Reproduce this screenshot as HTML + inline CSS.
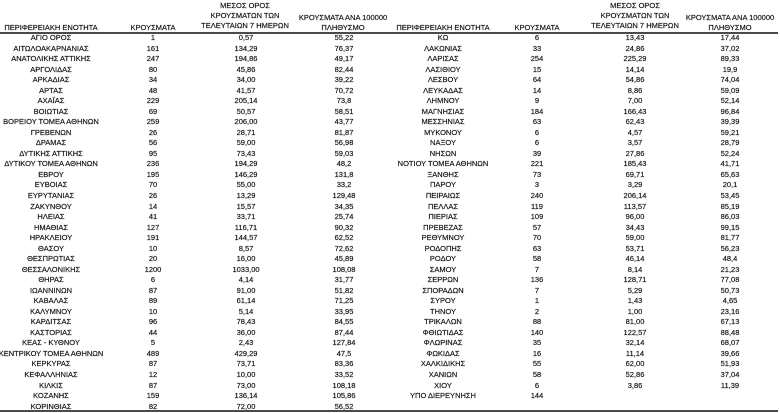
<!DOCTYPE html>
<html><head><meta charset="utf-8">
<style>
html,body{margin:0;padding:0;background:#fff;}
#w{position:relative;width:780px;height:413px;overflow:hidden;background:#fff;font-family:"Liberation Sans","DejaVu Sans",sans-serif;font-size:7.5px;color:#141414;-webkit-text-stroke:0.18px #141414;}
.h{position:absolute;white-space:nowrap;transform:translateX(-50%);line-height:10px;}
.t{position:absolute;top:33px;width:390px;}
.r{position:relative;height:10.54px;line-height:10.54px;}
.r span{position:absolute;top:0;white-space:nowrap;transform:translateX(-50%);}
#L .a{left:51px}#L .b{left:153px}#L .c{left:246px}#L .d{left:344px}
#R .a{left:53px}#R .b{left:147px}#R .c{left:245px}#R .d{left:340px}
.line{position:absolute;left:0;width:778px;height:2px;background:#4a4a4a;}
</style></head><body><div id="w">
<div class="h" style="left:51px;top:23px">ΠΕΡΙΦΕΡΕΙΑΚΗ ΕΝΟΤΗΤΑ</div>
<div class="h" style="left:153px;top:23px">ΚΡΟΥΣΜΑΤΑ</div>
<div class="h" style="left:245px;top:1px">ΜΕΣΟΣ ΟΡΟΣ</div>
<div class="h" style="left:245px;top:11px">ΚΡΟΥΣΜΑΤΩΝ ΤΩΝ</div>
<div class="h" style="left:245px;top:21px">ΤΕΛΕΥΤΑΙΩΝ 7 ΗΜΕΡΩΝ</div>
<div class="h" style="left:343px;top:13px">ΚΡΟΥΣΜΑΤΑ ΑΝΑ 100000</div>
<div class="h" style="left:343px;top:23px">ΠΛΗΘΥΣΜΟ</div>
<div class="h" style="left:443px;top:23px">ΠΕΡΙΦΕΡΕΙΑΚΗ ΕΝΟΤΗΤΑ</div>
<div class="h" style="left:537px;top:23px">ΚΡΟΥΣΜΑΤΑ</div>
<div class="h" style="left:635px;top:1px">ΜΕΣΟΣ ΟΡΟΣ</div>
<div class="h" style="left:635px;top:11px">ΚΡΟΥΣΜΑΤΩΝ ΤΩΝ</div>
<div class="h" style="left:635px;top:21px">ΤΕΛΕΥΤΑΙΩΝ 7 ΗΜΕΡΩΝ</div>
<div class="h" style="left:730px;top:13px">ΚΡΟΥΣΜΑΤΑ ΑΝΑ 100000</div>
<div class="h" style="left:730px;top:23px">ΠΛΗΘΥΣΜΟ</div>
<div class="line" style="top:32px"></div>

<div class="t" id="L" style="left:0">
<div class="r"><span class="a">ΑΓΙΟ ΟΡΟΣ</span><span class="b">1</span><span class="c">0,57</span><span class="d">55,22</span></div>
<div class="r"><span class="a">ΑΙΤΩΛΟΑΚΑΡΝΑΝΙΑΣ</span><span class="b">161</span><span class="c">134,29</span><span class="d">76,37</span></div>
<div class="r"><span class="a">ΑΝΑΤΟΛΙΚΗΣ ΑΤΤΙΚΗΣ</span><span class="b">247</span><span class="c">194,86</span><span class="d">49,17</span></div>
<div class="r"><span class="a">ΑΡΓΟΛΙΔΑΣ</span><span class="b">80</span><span class="c">45,86</span><span class="d">82,44</span></div>
<div class="r"><span class="a">ΑΡΚΑΔΙΑΣ</span><span class="b">34</span><span class="c">34,00</span><span class="d">39,22</span></div>
<div class="r"><span class="a">ΑΡΤΑΣ</span><span class="b">48</span><span class="c">41,57</span><span class="d">70,72</span></div>
<div class="r"><span class="a">ΑΧΑΪΑΣ</span><span class="b">229</span><span class="c">205,14</span><span class="d">73,8</span></div>
<div class="r"><span class="a">ΒΟΙΩΤΙΑΣ</span><span class="b">69</span><span class="c">50,57</span><span class="d">58,51</span></div>
<div class="r"><span class="a">ΒΟΡΕΙΟΥ ΤΟΜΕΑ ΑΘΗΝΩΝ</span><span class="b">259</span><span class="c">206,00</span><span class="d">43,77</span></div>
<div class="r"><span class="a">ΓΡΕΒΕΝΩΝ</span><span class="b">26</span><span class="c">28,71</span><span class="d">81,87</span></div>
<div class="r"><span class="a">ΔΡΑΜΑΣ</span><span class="b">56</span><span class="c">59,00</span><span class="d">56,98</span></div>
<div class="r"><span class="a">ΔΥΤΙΚΗΣ ΑΤΤΙΚΗΣ</span><span class="b">95</span><span class="c">73,43</span><span class="d">59,03</span></div>
<div class="r"><span class="a">ΔΥΤΙΚΟΥ ΤΟΜΕΑ ΑΘΗΝΩΝ</span><span class="b">236</span><span class="c">194,29</span><span class="d">48,2</span></div>
<div class="r"><span class="a">ΕΒΡΟΥ</span><span class="b">195</span><span class="c">146,29</span><span class="d">131,8</span></div>
<div class="r"><span class="a">ΕΥΒΟΙΑΣ</span><span class="b">70</span><span class="c">55,00</span><span class="d">33,2</span></div>
<div class="r"><span class="a">ΕΥΡΥΤΑΝΙΑΣ</span><span class="b">26</span><span class="c">13,29</span><span class="d">129,48</span></div>
<div class="r"><span class="a">ΖΑΚΥΝΘΟΥ</span><span class="b">14</span><span class="c">15,57</span><span class="d">34,35</span></div>
<div class="r"><span class="a">ΗΛΕΙΑΣ</span><span class="b">41</span><span class="c">33,71</span><span class="d">25,74</span></div>
<div class="r"><span class="a">ΗΜΑΘΙΑΣ</span><span class="b">127</span><span class="c">116,71</span><span class="d">90,32</span></div>
<div class="r"><span class="a">ΗΡΑΚΛΕΙΟΥ</span><span class="b">191</span><span class="c">144,57</span><span class="d">62,52</span></div>
<div class="r"><span class="a">ΘΑΣΟΥ</span><span class="b">10</span><span class="c">8,57</span><span class="d">72,62</span></div>
<div class="r"><span class="a">ΘΕΣΠΡΩΤΙΑΣ</span><span class="b">20</span><span class="c">16,00</span><span class="d">45,89</span></div>
<div class="r"><span class="a">ΘΕΣΣΑΛΟΝΙΚΗΣ</span><span class="b">1200</span><span class="c">1033,00</span><span class="d">108,08</span></div>
<div class="r"><span class="a">ΘΗΡΑΣ</span><span class="b">6</span><span class="c">4,14</span><span class="d">31,77</span></div>
<div class="r"><span class="a">ΙΩΑΝΝΙΝΩΝ</span><span class="b">87</span><span class="c">91,00</span><span class="d">51,82</span></div>
<div class="r"><span class="a">ΚΑΒΑΛΑΣ</span><span class="b">89</span><span class="c">61,14</span><span class="d">71,25</span></div>
<div class="r"><span class="a">ΚΑΛΥΜΝΟΥ</span><span class="b">10</span><span class="c">5,14</span><span class="d">33,95</span></div>
<div class="r"><span class="a">ΚΑΡΔΙΤΣΑΣ</span><span class="b">96</span><span class="c">78,43</span><span class="d">84,55</span></div>
<div class="r"><span class="a">ΚΑΣΤΟΡΙΑΣ</span><span class="b">44</span><span class="c">36,00</span><span class="d">87,44</span></div>
<div class="r"><span class="a">ΚΕΑΣ - ΚΥΘΝΟΥ</span><span class="b">5</span><span class="c">2,43</span><span class="d">127,84</span></div>
<div class="r"><span class="a">ΚΕΝΤΡΙΚΟΥ ΤΟΜΕΑ ΑΘΗΝΩΝ</span><span class="b">489</span><span class="c">429,29</span><span class="d">47,5</span></div>
<div class="r"><span class="a">ΚΕΡΚΥΡΑΣ</span><span class="b">87</span><span class="c">73,71</span><span class="d">83,36</span></div>
<div class="r"><span class="a">ΚΕΦΑΛΛΗΝΙΑΣ</span><span class="b">12</span><span class="c">10,00</span><span class="d">33,52</span></div>
<div class="r"><span class="a">ΚΙΛΚΙΣ</span><span class="b">87</span><span class="c">73,00</span><span class="d">108,18</span></div>
<div class="r"><span class="a">ΚΟΖΑΝΗΣ</span><span class="b">159</span><span class="c">136,14</span><span class="d">105,86</span></div>
<div class="r"><span class="a">ΚΟΡΙΝΘΙΑΣ</span><span class="b">82</span><span class="c">72,00</span><span class="d">56,52</span></div>
</div>

<div class="t" id="R" style="left:390px">
<div class="r"><span class="a">ΚΩ</span><span class="b">6</span><span class="c">13,43</span><span class="d">17,44</span></div>
<div class="r"><span class="a">ΛΑΚΩΝΙΑΣ</span><span class="b">33</span><span class="c">24,86</span><span class="d">37,02</span></div>
<div class="r"><span class="a">ΛΑΡΙΣΑΣ</span><span class="b">254</span><span class="c">225,29</span><span class="d">89,33</span></div>
<div class="r"><span class="a">ΛΑΣΙΘΙΟΥ</span><span class="b">15</span><span class="c">14,14</span><span class="d">19,9</span></div>
<div class="r"><span class="a">ΛΕΣΒΟΥ</span><span class="b">64</span><span class="c">54,86</span><span class="d">74,04</span></div>
<div class="r"><span class="a">ΛΕΥΚΑΔΑΣ</span><span class="b">14</span><span class="c">8,86</span><span class="d">59,09</span></div>
<div class="r"><span class="a">ΛΗΜΝΟΥ</span><span class="b">9</span><span class="c">7,00</span><span class="d">52,14</span></div>
<div class="r"><span class="a">ΜΑΓΝΗΣΙΑΣ</span><span class="b">184</span><span class="c">166,43</span><span class="d">96,84</span></div>
<div class="r"><span class="a">ΜΕΣΣΗΝΙΑΣ</span><span class="b">63</span><span class="c">62,43</span><span class="d">39,39</span></div>
<div class="r"><span class="a">ΜΥΚΟΝΟΥ</span><span class="b">6</span><span class="c">4,57</span><span class="d">59,21</span></div>
<div class="r"><span class="a">ΝΑΞΟΥ</span><span class="b">6</span><span class="c">3,57</span><span class="d">28,79</span></div>
<div class="r"><span class="a">ΝΗΣΩΝ</span><span class="b">39</span><span class="c">27,86</span><span class="d">52,24</span></div>
<div class="r"><span class="a">ΝΟΤΙΟΥ ΤΟΜΕΑ ΑΘΗΝΩΝ</span><span class="b">221</span><span class="c">185,43</span><span class="d">41,71</span></div>
<div class="r"><span class="a">ΞΑΝΘΗΣ</span><span class="b">73</span><span class="c">69,71</span><span class="d">65,63</span></div>
<div class="r"><span class="a">ΠΑΡΟΥ</span><span class="b">3</span><span class="c">3,29</span><span class="d">20,1</span></div>
<div class="r"><span class="a">ΠΕΙΡΑΙΩΣ</span><span class="b">240</span><span class="c">206,14</span><span class="d">53,45</span></div>
<div class="r"><span class="a">ΠΕΛΛΑΣ</span><span class="b">119</span><span class="c">113,57</span><span class="d">85,19</span></div>
<div class="r"><span class="a">ΠΙΕΡΙΑΣ</span><span class="b">109</span><span class="c">96,00</span><span class="d">86,03</span></div>
<div class="r"><span class="a">ΠΡΕΒΕΖΑΣ</span><span class="b">57</span><span class="c">34,43</span><span class="d">99,15</span></div>
<div class="r"><span class="a">ΡΕΘΥΜΝΟΥ</span><span class="b">70</span><span class="c">59,00</span><span class="d">81,77</span></div>
<div class="r"><span class="a">ΡΟΔΟΠΗΣ</span><span class="b">63</span><span class="c">53,71</span><span class="d">56,23</span></div>
<div class="r"><span class="a">ΡΟΔΟΥ</span><span class="b">58</span><span class="c">46,14</span><span class="d">48,4</span></div>
<div class="r"><span class="a">ΣΑΜΟΥ</span><span class="b">7</span><span class="c">8,14</span><span class="d">21,23</span></div>
<div class="r"><span class="a">ΣΕΡΡΩΝ</span><span class="b">136</span><span class="c">128,71</span><span class="d">77,08</span></div>
<div class="r"><span class="a">ΣΠΟΡΑΔΩΝ</span><span class="b">7</span><span class="c">5,29</span><span class="d">50,73</span></div>
<div class="r"><span class="a">ΣΥΡΟΥ</span><span class="b">1</span><span class="c">1,43</span><span class="d">4,65</span></div>
<div class="r"><span class="a">ΤΗΝΟΥ</span><span class="b">2</span><span class="c">1,00</span><span class="d">23,16</span></div>
<div class="r"><span class="a">ΤΡΙΚΑΛΩΝ</span><span class="b">88</span><span class="c">81,00</span><span class="d">67,13</span></div>
<div class="r"><span class="a">ΦΘΙΩΤΙΔΑΣ</span><span class="b">140</span><span class="c">122,57</span><span class="d">88,48</span></div>
<div class="r"><span class="a">ΦΛΩΡΙΝΑΣ</span><span class="b">35</span><span class="c">32,14</span><span class="d">68,07</span></div>
<div class="r"><span class="a">ΦΩΚΙΔΑΣ</span><span class="b">16</span><span class="c">11,14</span><span class="d">39,66</span></div>
<div class="r"><span class="a">ΧΑΛΚΙΔΙΚΗΣ</span><span class="b">55</span><span class="c">62,00</span><span class="d">51,93</span></div>
<div class="r"><span class="a">ΧΑΝΙΩΝ</span><span class="b">58</span><span class="c">52,86</span><span class="d">37,04</span></div>
<div class="r"><span class="a">ΧΙΟΥ</span><span class="b">6</span><span class="c">3,86</span><span class="d">11,39</span></div>
<div class="r"><span class="a">ΥΠΟ ΔΙΕΡΕΥΝΗΣΗ</span><span class="b">144</span></div>
</div>

<div class="line" style="top:410px"></div>
</div></body></html>
